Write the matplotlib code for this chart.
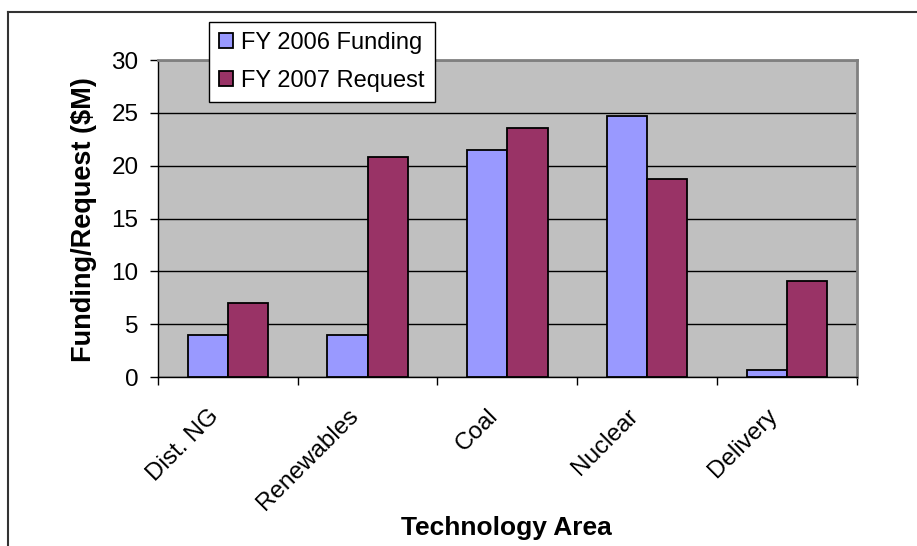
import matplotlib.pyplot as plt
import numpy as np
from matplotlib.lines import Line2D
from matplotlib.transforms import ScaledTranslation

plt.rcParams['font.family'] = ['Liberation Sans', 'DejaVu Sans']

areas = ['Dist. NG', 'Renewables', 'Coal', 'Nuclear', 'Delivery']
fy2006_funding = [4.0, 4.0, 21.5, 24.7, 0.7]
fy2007_request = [7.0, 20.8, 23.6, 18.7, 9.1]
series_names = ['FY 2006 Funding', 'FY 2007 Request']
yticks = [0, 5, 10, 15, 20, 25, 30]

fig = plt.figure(figsize=(9.17, 5.46), dpi=100)
fig.patch.set_facecolor('white')
ax = fig.add_axes([0.1723, 0.3095, 0.7619, 0.5805])
ax.set_facecolor('#C0C0C0')

x = np.arange(len(areas))
w = 0.288
ax.bar(x - w / 2, fy2006_funding, w, color='#9999FF', edgecolor='black', linewidth=1.3,
       label=series_names[0], zorder=3)
ax.bar(x + w / 2, fy2007_request, w, color='#993366', edgecolor='black', linewidth=1.3,
       label=series_names[1], zorder=3)

ax.set_xlim(-0.5, len(areas) - 0.5)
ax.set_ylim(0, 30)
ax.set_yticks(yticks)
ax.yaxis.grid(True, color='black', linewidth=1.0, zorder=1)
ax.set_axisbelow(True)

# category boundaries carry the ticks, labels sit at centres
ax.set_xticks(x)
ax.set_xticks(np.arange(-0.5, len(areas), 1.0), minor=True)
ax.tick_params(axis='x', which='major', length=0, pad=20)
ax.tick_params(axis='x', which='minor', length=6, width=1, color='black', direction='out')
ax.tick_params(axis='y', length=6, width=1, color='black', direction='out', pad=8,
               labelsize=17.5)
ax.set_xticklabels(areas, rotation=45, ha='right', va='top', rotation_mode='anchor',
                   fontsize=17.5)
for lab in ax.get_xticklabels():
    lab.set_transform(lab.get_transform() + ScaledTranslation(-0.2, 0, fig.dpi_scale_trans))

for side in ['top', 'right']:
    ax.spines[side].set_color('#808080')
    ax.spines[side].set_linewidth(2)
for side in ['left', 'bottom']:
    ax.spines[side].set_color('black')
    ax.spines[side].set_linewidth(1)

fig.text(84 / 917, 1 - 220 / 546, 'Funding/Request ($M)', rotation=90, ha='center', va='center',
         fontsize=19.5, fontweight='bold')
fig.text(506.5 / 917, 1 - 535 / 546, 'Technology Area', ha='center', va='baseline',
         fontsize=19, fontweight='bold')

leg = ax.legend(loc='upper left', bbox_to_anchor=(209 / 917, 1 - 22 / 546),
                bbox_transform=fig.transFigure, borderaxespad=0, fontsize=17,
                frameon=True, fancybox=False, shadow=False, framealpha=1,
                handlelength=0.6, handleheight=0.6, handletextpad=0.35,
                labelspacing=0.68, borderpad=0.42)
leg.get_frame().set_edgecolor('black')
leg.get_frame().set_linewidth(1)

# outer chart border (left and top visible in the crop)
fig.add_artist(Line2D([8 / 917, 8 / 917], [0, 1 - 12 / 546], transform=fig.transFigure,
                      color='#333333', linewidth=1.5))
fig.add_artist(Line2D([8 / 917, 1], [1 - 12 / 546, 1 - 12 / 546], transform=fig.transFigure,
                      color='#333333', linewidth=1.5))

fig.savefig('out.png', dpi=100)
